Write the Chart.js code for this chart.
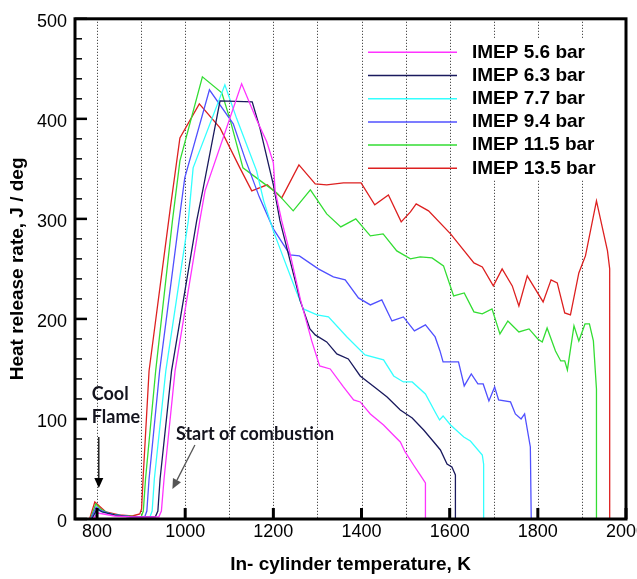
<!DOCTYPE html>
<html>
<head>
<meta charset="utf-8">
<script src="https://cdn.jsdelivr.net/npm/chart.js@4.4.0/dist/chart.umd.min.js"></script>
<style>
  html, body { margin: 0; padding: 0; background: #fff; overflow: hidden; }
  .chart-wrapper { position: relative; width: 660px; height: 579px; }
</style>
</head>
<body>
<div class="chart-wrapper">
  <canvas id="myChart" width="660" height="579"></canvas>
</div>
<script>
// series: temperature (K) and heat release rate (J/deg)
const seriesLabels = ["IMEP 5.6 bar", "IMEP 6.3 bar", "IMEP 7.7 bar", "IMEP 9.4 bar", "IMEP 11.5 bar", "IMEP 13.5 bar"];
const seriesColors = ["#ff33ff", "#1a1a5e", "#33ffff", "#5050ff", "#33dd33", "#dd2020"];

const imep56T = [790, 802, 815, 840, 880, 940, 946, 952, 977, 1033, 1045, 1128, 1162, 1185, 1200, 1204, 1219, 1238, 1261, 1287, 1305, 1329, 1359, 1382, 1397, 1420, 1450, 1470, 1488, 1499, 1518, 1533, 1545, 1545];
const imep56Q = [0, 6, 5, 3, 2, 2, 8, 40, 148, 298, 328, 435, 399, 377, 356, 328, 298, 265, 220, 178, 153, 150, 132, 119, 117, 105, 94, 85, 77, 67, 54, 44, 36, 0];

const imep63T = [788, 800, 812, 840, 880, 932, 938, 943, 969, 1026, 1041, 1079, 1152, 1170, 1200, 1215, 1234, 1261, 1283, 1295, 1321, 1344, 1370, 1397, 1435, 1458, 1488, 1515, 1541, 1564, 1579, 1594, 1605, 1613, 1613];
const imep63Q = [0, 10, 7, 4, 2, 2, 8, 40, 148, 298, 331, 418, 417, 390, 334, 298, 265, 218, 190, 184, 177, 165, 160, 143, 130, 122, 109, 101, 89, 77, 69, 55, 52, 44, 0];

const imep77T = [788, 800, 812, 840, 880, 920, 925, 930, 956, 1007, 1018, 1090, 1117, 1162, 1178, 1200, 1223, 1249, 1268, 1299, 1325, 1367, 1408, 1450, 1473, 1495, 1515, 1545, 1567, 1577, 1585, 1602, 1632, 1647, 1674, 1677, 1677];
const imep77Q = [0, 9, 7, 4, 2, 2, 8, 40, 148, 298, 351, 434, 400, 348, 318, 288, 261, 231, 210, 204, 202, 182, 164, 159, 143, 137, 137, 125, 107, 99, 103, 94, 82, 78, 64, 55, 0];

const imep94T = [786, 798, 810, 840, 880, 908, 913, 918, 942, 986, 999, 1055, 1109, 1136, 1168, 1200, 1238, 1259, 1302, 1336, 1363, 1393, 1420, 1446, 1469, 1495, 1520, 1545, 1567, 1578, 1585, 1620, 1633, 1649, 1664, 1676, 1689, 1702, 1711, 1738, 1749, 1762, 1770, 1783, 1785];
const imep94Q = [0, 12, 8, 4, 2, 2, 8, 40, 148, 298, 341, 429, 395, 360, 322, 290, 264, 263, 250, 242, 239, 221, 214, 219, 198, 202, 188, 194, 182, 168, 157, 157, 133, 145, 135, 135, 118, 132, 119, 117, 105, 100, 105, 72, 0];

const imep115T = [785, 797, 808, 830, 860, 900, 905, 910, 933, 971, 988, 1039, 1083, 1102, 1131, 1177, 1208, 1245, 1284, 1321, 1353, 1387, 1420, 1449, 1480, 1511, 1533, 1560, 1586, 1609, 1633, 1655, 1674, 1696, 1714, 1732, 1757, 1780, 1800, 1810, 1821, 1840, 1852, 1861, 1867, 1882, 1893, 1907, 1917, 1926, 1933, 1933];
const imep115Q = [0, 15, 10, 5, 3, 2, 8, 40, 148, 298, 358, 442, 426, 399, 351, 336, 326, 308, 329, 305, 292, 300, 283, 285, 268, 260, 262, 261, 253, 223, 226, 207, 205, 210, 185, 198, 187, 190, 180, 177, 191, 168, 158, 158, 149, 193, 178, 195, 195, 178, 130, 0];

const imep135T = [783, 795, 805, 820, 850, 880, 897, 901, 905, 918, 966, 988, 1032, 1079, 1124, 1151, 1186, 1219, 1258, 1295, 1321, 1359, 1399, 1430, 1461, 1490, 1511, 1524, 1552, 1602, 1655, 1674, 1699, 1719, 1742, 1757, 1776, 1812, 1830, 1844, 1861, 1874, 1893, 1908, 1933, 1948, 1958, 1963, 1963];
const imep135Q = [0, 17, 13, 7, 4, 3, 5, 10, 45, 148, 310, 381, 415, 391, 351, 328, 334, 321, 354, 335, 334, 336, 336, 314, 324, 297, 307, 315, 308, 285, 256, 252, 233, 250, 233, 213, 243, 217, 239, 236, 206, 204, 246, 263, 318, 288, 268, 250, 0];

const seriesT = [imep56T, imep63T, imep77T, imep94T, imep115T, imep135T];
const seriesQ = [imep56Q, imep63Q, imep77Q, imep94Q, imep115Q, imep135Q];

// axes
const xTickLabels = [800, 1000, 1200, 1400, 1600, 1800, 2000];
const xGrid = [800, 900, 1000, 1100, 1200, 1300, 1400, 1500, 1600, 1700, 1800, 1900];
const yTickLabels = [0, 100, 200, 300, 400, 500];
const yMinorStep = 20;

const family = "'Liberation Sans', Arial, sans-serif";

function arrow(ctx, x1, y1, x2, y2, color) {
  const ang = Math.atan2(y2 - y1, x2 - x1);
  const len = 10, half = 4.5;
  ctx.strokeStyle = color;
  ctx.fillStyle = color;
  ctx.lineWidth = 1.3;
  ctx.beginPath();
  ctx.moveTo(x1, y1);
  ctx.lineTo(x2 - Math.cos(ang) * len, y2 - Math.sin(ang) * len);
  ctx.stroke();
  ctx.beginPath();
  ctx.moveTo(x2, y2);
  ctx.lineTo(x2 - Math.cos(ang) * len - Math.sin(ang) * half, y2 - Math.sin(ang) * len + Math.cos(ang) * half);
  ctx.lineTo(x2 - Math.cos(ang) * len + Math.sin(ang) * half, y2 - Math.sin(ang) * len - Math.cos(ang) * half);
  ctx.closePath();
  ctx.fill();
}

const framePlugin = {
  id: "frame",
  beforeDatasetsDraw(chart) {
    const { ctx, chartArea: a, scales: { x } } = chart;
    ctx.save();
    // dotted vertical grid
    ctx.strokeStyle = "#222";
    ctx.lineWidth = 1;
    ctx.setLineDash([1, 2]);
    xGrid.forEach((v) => {
      const px = Math.round(x.getPixelForValue(v)) + 0.5;
      ctx.beginPath();
      ctx.moveTo(px, a.top);
      ctx.lineTo(px, a.bottom);
      ctx.stroke();
    });
    ctx.setLineDash([]);
    // white box behind legend text
    ctx.fillStyle = "#fff";
    ctx.fillRect(a.left + 390, a.top + 20, a.right - a.left - 393, 141);
    ctx.restore();
  },
  afterDatasetsDraw(chart) {
    const { ctx, chartArea: a, scales: { x, y } } = chart;
    ctx.save();

    // legend
    chart.data.datasets.forEach((ds, i) => {
      const ly = a.top + 33.5 + i * 23.2;
      ctx.strokeStyle = ds.borderColor;
      ctx.lineWidth = 1.5;
      ctx.beginPath();
      ctx.moveTo(a.left + 293, ly);
      ctx.lineTo(a.left + 382, ly);
      ctx.stroke();
      ctx.fillStyle = "#000";
      ctx.font = "bold 19px " + family;
      ctx.textBaseline = "middle";
      ctx.textAlign = "left";
      ctx.fillText(ds.label, a.left + 397, ly);
    });

    // annotations
    ctx.font = "bold 18px Lato, 'Open Sans', sans-serif";
    ctx.fillStyle = "#14141e";
    ctx.textBaseline = "alphabetic";
    ctx.fillText("Cool", x.getPixelForValue(788), y.getPixelForValue(119));
    ctx.fillText("Flame", x.getPixelForValue(788), y.getPixelForValue(96));
    ctx.fillText("Start of combustion", x.getPixelForValue(979), y.getPixelForValue(79));
    arrow(ctx, x.getPixelForValue(804), y.getPixelForValue(82), x.getPixelForValue(804), y.getPixelForValue(31), "#000");
    arrow(ctx, x.getPixelForValue(1022), y.getPixelForValue(74), x.getPixelForValue(971), y.getPixelForValue(30), "#555");

    // inward ticks
    ctx.strokeStyle = "#000";
    for (let v = 0; v <= 500; v += yMinorStep) {
      const py = y.getPixelForValue(v);
      const major = v % 100 === 0;
      ctx.lineWidth = major ? 2.5 : 1.5;
      ctx.beginPath();
      ctx.moveTo(a.left, py);
      ctx.lineTo(a.left + (major ? 12 : 7), py);
      ctx.stroke();
    }
    ctx.lineWidth = 3;
    xTickLabels.forEach((v) => {
      const px = x.getPixelForValue(v);
      ctx.beginPath();
      ctx.moveTo(px, a.bottom);
      ctx.lineTo(px, a.bottom - 11);
      ctx.stroke();
    });

    // frame
    ctx.lineWidth = 3;
    ctx.strokeRect(a.left, a.top, a.right - a.left, a.bottom - a.top);
    ctx.restore();
  },
};

const datasets = seriesLabels.map((label, i) => ({
  label,
  data: seriesT[i].map((t, j) => ({ x: t, y: seriesQ[i][j] })),
  borderColor: seriesColors[i],
  backgroundColor: seriesColors[i],
  borderWidth: 1.3,
  pointRadius: 0,
  tension: 0,
  fill: false,
}));

const ctx = document.getElementById("myChart").getContext("2d");
new Chart(ctx, {
  type: "line",
  data: { datasets },
  plugins: [framePlugin],
  options: {
    responsive: false,
    animation: false,
    layout: { padding: { top: 17, right: 34, bottom: 0, left: 0 } },
    plugins: { legend: { display: false }, tooltip: { enabled: false } },
    scales: {
      x: {
        type: "linear",
        min: 750,
        max: 2000,
        afterBuildTicks: (s) => { s.ticks = xTickLabels.map((v) => ({ value: v })); },
        afterFit: (s) => { s.height = 60; },
        grid: { display: false, drawTicks: false },
        border: { display: false },
        ticks: {
          autoSkip: false,
          maxRotation: 0,
          padding: 2,
          color: "#000",
          font: { family, size: 18 },
          callback: (v) => String(v),
        },
        title: {
          display: true,
          text: "In- cylinder temperature, K",
          color: "#000",
          font: { family, size: 19, weight: "bold" },
          padding: { top: 0, bottom: 3 },
        },
      },
      y: {
        min: 0,
        max: 500,
        afterBuildTicks: (s) => { s.ticks = yTickLabels.map((v) => ({ value: v })); },
        afterFit: (s) => { s.width = 75; },
        grid: { display: false, drawTicks: false },
        border: { display: false },
        ticks: {
          padding: 8,
          labelOffset: 3,
          color: "#000",
          font: { family, size: 18 },
          callback: (v) => String(v),
        },
        title: {
          display: true,
          text: "Heat release rate, J / deg",
          color: "#000",
          font: { family, size: 19, weight: "bold" },
          padding: { top: 6, bottom: 0 },
        },
      },
    },
  },
});
</script>
</body>
</html>
